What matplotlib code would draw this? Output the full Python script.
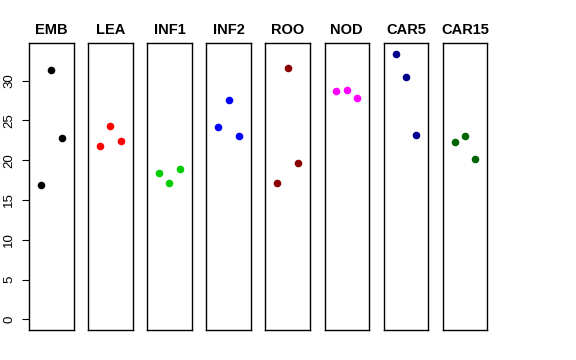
import matplotlib
matplotlib.use("Agg")
import matplotlib.pyplot as plt

plt.rcParams["font.family"] = ["Liberation Sans", "DejaVu Sans"]

# panel names, colours and the three values in each panel
groups = ["EMB", "LEA", "INF1", "INF2", "ROO", "NOD", "CAR5", "CAR15"]
colors = ["black", "red", "#00CD00", "blue", "#8B0000", "magenta", "#00008B", "#006400"]
emb = [16.85, 31.38, 22.79]
lea = [21.82, 24.29, 22.36]
inf1 = [18.40, 17.10, 18.94]
inf2 = [24.20, 27.58, 22.99]
roo = [17.10, 31.59, 19.66]
nod = [28.71, 28.75, 27.75]
car5 = [33.38, 30.50, 23.11]
car15 = [22.29, 22.99, 20.16]
values = [emb, lea, inf1, inf2, roo, nod, car5, car15]
reps = [1, 2, 3]

W, H = 576, 360
fig = plt.figure(figsize=(W / 100, H / 100), dpi=100)
fig.patch.set_facecolor("white")

ymax = max(max(v) for v in values)
pad = ymax * 0.04
left0, step, width = 29, 59.1, 44.5
top, bottom = 43, 330

for i, (name, col, vals) in enumerate(zip(groups, colors, values)):
    ax = fig.add_axes([(left0 + i * step) / W, 1 - bottom / H,
                       width / W, (bottom - top) / H])
    ax.scatter(reps, vals, s=30, color=col, zorder=3, linewidths=0)
    ax.set_xlim(-0.16, 4.16)
    ax.set_ylim(-pad, ymax + pad)
    ax.set_xticks([])
    ax.set_title(name, fontsize=10.5, fontweight="bold", pad=6.5)
    for s in ax.spines.values():
        s.set_linewidth(1.0)
        s.set_color("black")
    if i == 0:
        ax.set_yticks([0, 5, 10, 15, 20, 25, 30])
        ax.tick_params(axis="y", length=5, width=0.8, pad=5, labelsize=9.5)
        for lab in ax.get_yticklabels():
            lab.set_rotation(90)
            lab.set_va("center")
    else:
        ax.set_yticks([])

fig.savefig("out.png", dpi=100)
